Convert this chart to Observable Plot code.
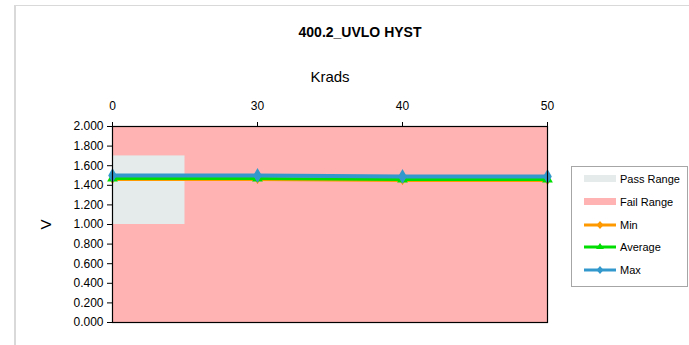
<!DOCTYPE html>
<html><head><meta charset="utf-8">
<script src="https://cdn.jsdelivr.net/npm/d3@7"></script>
<script src="https://cdn.jsdelivr.net/npm/@observablehq/plot@0.6"></script>
<style>
body{margin:0;background:#fff;font-family:"Liberation Sans",Arial,sans-serif;}
#wrap{position:relative;width:689px;height:345px;overflow:hidden;}
#outer{position:absolute;left:14px;top:5px;width:700px;height:400px;border-top:1px solid #d9d9d9;border-left:2px solid #d9d9d9;}
#title{position:absolute;left:0;width:720px;top:24px;text-align:center;font-weight:bold;font-size:14px;color:#000;}
#legend{position:absolute;left:571px;top:166px;width:117px;height:121px;border:1px solid #a6a6a6;box-sizing:border-box;background:#fff;}
.li{position:absolute;left:12px;height:14px;font-size:11px;color:#000;display:flex;align-items:center;}
.li svg{margin-right:4px;}
#chart{position:absolute;left:0;top:0;}
</style></head>
<body>
<div id="wrap">
<div id="outer"></div>
<div id="chart"></div>
<div id="title">400.2_UVLO HYST</div>
<div id="legend"></div>
</div>
<script>
const kradLabels = ["0", "30", "40", "50"];
const minVals = [1.46, 1.46, 1.45, 1.45];
const avgVals = [1.47, 1.47, 1.46, 1.46];
const maxVals = [1.50, 1.50, 1.49, 1.49];
const passRange = {x1: 0, x2: 0.5, y1: 1.0, y2: 1.7};
const failRange = {x1: 0, x2: 3, y1: 0, y2: 2};
const seriesNames = ["Min", "Average", "Max"];
const colors = {Pass: "#e5eaea", Fail: "#ffb3b3", Min: "#ff9900", Average: "#00dd00", Max: "#3399cc"};

const rows = [];
kradLabels.forEach((k, i) => {
  rows.push({i, series: "Min", v: minVals[i]});
  rows.push({i, series: "Average", v: avgVals[i]});
  rows.push({i, series: "Max", v: maxVals[i]});
});
const sym = {Min: "diamond", Average: "triangle", Max: "diamond"};
const rad = {Min: 3, Average: 4, Max: 4.5};
const sw = {Min: 3, Average: 3, Max: 4};

const marks = [
  Plot.rect([failRange], {x1: "x1", x2: "x2", y1: "y1", y2: "y2", fill: colors.Fail}),
  Plot.rect([passRange], {x1: "x1", x2: "x2", y1: "y1", y2: "y2", fill: colors.Pass}),
];
seriesNames.forEach(s => {
  const d = rows.filter(r => r.series === s);
  marks.push(Plot.line(d, {x: "i", y: "v", stroke: colors[s], strokeWidth: sw[s]}));
  marks.push(Plot.dot(d, {x: "i", y: "v", fill: colors[s], symbol: sym[s], r: rad[s], stroke: null}));
});
marks.push(Plot.frame({stroke: "#000", strokeWidth: 1.2}));
marks.push(Plot.axisX({anchor: "top", ticks: [0,1,2,3], tickFormat: i => kradLabels[i], tickSize: 5, tickPadding: 12, fontSize: 12, label: "Krads", labelAnchor: "center", labelArrow: "none", labelOffset: 55}));
marks.push(Plot.axisY({anchor: "left", ticks: d3.range(0, 2.0001, 0.2), tickFormat: d3.format(".3f"), tickSize: 5, tickPadding: 4, fontSize: 12, label: "V", labelAnchor: "center", labelArrow: "none", labelOffset: 72}));

const chart = Plot.plot({
  width: 689, height: 345,
  marginLeft: 112, marginRight: 142, marginTop: 126, marginBottom: 23,
  style: {fontFamily: "Liberation Sans, Arial, sans-serif", fontSize: "12px", color: "#000", background: "transparent", overflow: "visible"},
  x: {type: "linear", domain: [0, 3]},
  y: {domain: [0, 2]},
  marks
});
chart.querySelectorAll('[aria-label="x-axis label"] text, [aria-label="y-axis label"] text').forEach(t => t.setAttribute("font-size", "15"));
document.getElementById("chart").appendChild(chart);

const leg = document.getElementById("legend");
const items = [
  {name: "Pass Range", type: "rect", c: colors.Pass},
  {name: "Fail Range", type: "rect", c: colors.Fail},
  {name: "Min", type: "line", c: colors.Min, s: "diamond"},
  {name: "Average", type: "line", c: colors.Average, s: "triangle"},
  {name: "Max", type: "line", c: colors.Max, s: "diamond"}
];
items.forEach((it, k) => {
  const div = document.createElement("div");
  div.className = "li";
  div.style.top = (5 + k * 22.8) + "px";
  let sv;
  if (it.type === "rect") {
    sv = `<svg width="32" height="14"><rect x="0" y="3" width="32" height="7" fill="${it.c}"/></svg>`;
  } else if (it.s === "triangle") {
    sv = `<svg width="32" height="14"><line x1="0" x2="32" y1="7" y2="7" stroke="${it.c}" stroke-width="3"/><path d="M16,3 L20,9 L12,9Z" fill="${it.c}"/></svg>`;
  } else {
    sv = `<svg width="32" height="14"><line x1="0" x2="32" y1="7" y2="7" stroke="${it.c}" stroke-width="3"/><path d="M16,3 L19.5,7 L16,11 L12.5,7Z" fill="${it.c}"/></svg>`;
  }
  div.innerHTML = sv + `<span>${it.name}</span>`;
  leg.appendChild(div);
});
</script>
</body></html>
